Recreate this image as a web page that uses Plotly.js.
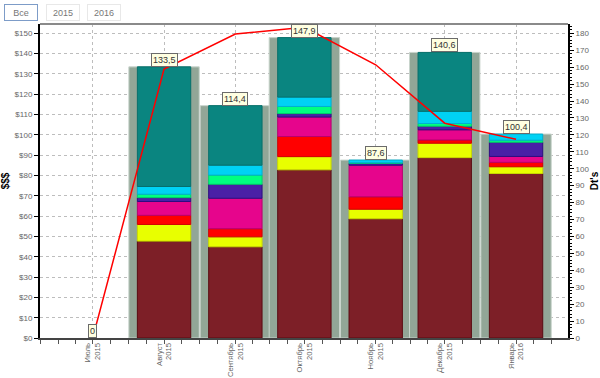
<!DOCTYPE html>
<html><head><meta charset="utf-8">
<script src="https://cdn.plot.ly/plotly-3.0.1.min.js"></script>
<style>html,body{margin:0;padding:0;background:#fff}#chart{width:600px;height:378px}</style>
</head><body><div id="chart"></div>
<script>
// ---- data ----
const months = ['2015-07-01','2015-08-01','2015-09-01','2015-10-01','2015-11-01','2015-12-01','2016-01-01'];
const monthLabels = ['Июль<br>2015','Август<br>2015','Сентябрь<br>2015','Октябрь<br>2015','Ноябрь<br>2015','Декабрь<br>2015','Январь<br>2016'];
const totals = [0, 133.5, 114.4, 147.9, 87.6, 140.6, 100.4];
const s1 = [0, 47.7, 44.9, 82.8, 58.7, 88.8, 81.0];   // dark red
const s2 = [0, 8.2, 4.9, 6.5, 4.7, 7.1, 3.3];         // yellow
const s3 = [0, 4.5, 4.0, 9.9, 6.1, 1.6, 2.2];         // red
const s4 = [0, 6.8, 15.0, 9.6, 15.6, 5.0, 2.9];       // magenta
const s5 = [0, 1.9, 6.9, 1.7, 0.9, 1.8, 7.0];         // purple
const s6 = [0, 1.7, 4.5, 3.5, 0.3, 1.3, 1.0];         // green
const s7 = [0, 3.8, 4.9, 4.6, 1.3, 6.0, 3.0];         // cyan
const s8 = [0, 58.9, 29.3, 29.3, 0, 29.0, 0];         // teal
const dtLine = [0, 158.9, 179.6, 183.6, 161.4, 126.9, 117.4];
const buttons = ['Все', '2015', '2016'];

// ---- styles ----
const DAY = 86400000;
const segs = [
  {v: s1, c: '#7d1f27', l: '#5a0b12'},
  {v: s2, c: '#e8ff00', l: '#c8d800'},
  {v: s3, c: '#ff0000', l: '#d00000'},
  {v: s4, c: '#e6058c', l: '#b8006e'},
  {v: s5, c: '#4a20a6', l: '#2c0d80'},
  {v: s6, c: '#00ff80', l: '#00d06a'},
  {v: s7, c: '#00d2f4', l: '#00b0d0'},
  {v: s8, c: '#0a8580', l: '#06706b'}
];
const lw = arr => arr.map(v => v > 0 ? 1 : 0);

const traces = [];
traces.push({
  type: 'bar', x: months, y: totals, width: 30.6 * DAY,
  marker: {color: '#92a697', line: {color: '#c9d4cc', width: lw(totals)}},
  hoverinfo: 'skip', showlegend: false
});
let base = months.map(() => 0);
segs.forEach(s => {
  traces.push({
    type: 'bar', x: months, y: s.v, base: base.slice(), width: 23.2 * DAY,
    marker: {color: s.c, line: {color: s.l, width: lw(s.v)}},
    showlegend: false
  });
  base = base.map((b, i) => b + s.v[i]);
});
traces.push({
  type: 'scatter', mode: 'lines', x: months, y: dtLine, yaxis: 'y2',
  line: {color: '#ff0000', width: 1.5}, showlegend: false
});

// minor ticks at quarter months
const minorVals = [];
const mStarts = ['2015-06-01','2015-07-01','2015-08-01','2015-09-01','2015-10-01','2015-11-01','2015-12-01','2016-01-01','2016-02-01'];
for (let i = 0; i < mStarts.length - 1; i++) {
  const a = new Date(mStarts[i] + 'T00:00:00Z').getTime();
  const b = new Date(mStarts[i + 1] + 'T00:00:00Z').getTime();
  for (let k = 1; k < 4; k++) minorVals.push(new Date(a + (b - a) * k / 4).toISOString().slice(0, 19).replace('T', ' '));
}

const fmt = v => v === 0 ? '0' : v.toFixed(1).replace('.', ',');
const annotations = months.map((m, i) => ({
  x: m, y: totals[i], xref: 'x', yref: 'y', text: fmt(totals[i]),
  showarrow: false, yanchor: 'bottom', xanchor: 'center',
  bgcolor: '#ffffe1', bordercolor: '#6b6b6b', borderwidth: 1, borderpad: 1,
  font: {family: 'Liberation Sans, Arial, sans-serif', size: 9, color: '#333'}
}));
const btnX = [4, 46, 87];
buttons.forEach((b, i) => {
  annotations.push({
    xref: 'paper', yref: 'paper', x: (btnX[i] - 40) / 528, y: (338 - 4) / 314,
    xanchor: 'left', yanchor: 'top', text: b, showarrow: false,
    width: 30, height: 13,
    bgcolor: '#ffffff', bordercolor: i === 0 ? '#7d9cc8' : '#e8e8e8', borderwidth: 1,
    font: {family: 'Liberation Sans, Arial, sans-serif', size: 9, color: '#777'}
  });
});

const layout = {
  width: 600, height: 378,
  margin: {l: 40, r: 32, t: 24, b: 40},
  paper_bgcolor: '#ffffff', plot_bgcolor: '#ffffff',
  barmode: 'overlay', bargap: 0,
  font: {family: 'Liberation Sans, Arial, sans-serif', size: 8, color: '#666'},
  xaxis: {
    type: 'date', range: ['2015-06-08 02:00', '2016-01-23 14:00'],
    tickmode: 'array', tickvals: months, ticktext: monthLabels, tickangle: -90,
    ticks: 'outside', ticklen: 4, tickcolor: '#555', ticklabelstandoff: -4,
    showgrid: true, gridcolor: '#bdbdbd', griddash: 'dot', gridwidth: 1,
    showline: true, linecolor: '#444', linewidth: 2,
    minor: {tickmode: 'array', tickvals: minorVals, ticks: 'outside', ticklen: 4, tickcolor: '#555', showgrid: false},
    tickfont: {family: 'Liberation Sans, Arial, sans-serif', size: 7.6, color: '#666'},
    zeroline: false, fixedrange: true
  },
  yaxis: {
    range: [0, 154.6], tickmode: 'linear', tick0: 0, dtick: 10,
    tickprefix: '$', ticks: 'outside', ticklen: 4, tickcolor: '#000',
    showgrid: true, gridcolor: '#bdbdbd', griddash: 'dot', gridwidth: 1,
    showline: true, linecolor: '#000', linewidth: 2, zeroline: false,
    tickfont: {size: 8, color: '#666'},
    title: {text: '$$$', font: {size: 10, color: '#000', weight: 'bold'}, standoff: 6}
  },
  yaxis2: {
    overlaying: 'y', side: 'right', range: [0, 185.5], tickmode: 'linear', tick0: 0, dtick: 10,
    ticks: 'outside', ticklen: 4, tickcolor: '#000',
    minor: {dtick: 2, ticks: 'outside', ticklen: 2, tickcolor: '#000'},
    showgrid: false, showline: true, linecolor: '#000', linewidth: 2, zeroline: false,
    tickfont: {size: 8, color: '#666'},
    title: {text: "Dt's", font: {size: 10, color: '#000', weight: 'bold'}, standoff: 4}
  },
  shapes: [{type: 'line', xref: 'paper', yref: 'paper', x0: 0, x1: 1, y0: 1, y1: 1, line: {color: '#8a8a8a', width: 2}}],
  annotations: annotations
};

Plotly.newPlot('chart', traces, layout, {displayModeBar: false, staticPlot: true});
</script>
</body></html>
